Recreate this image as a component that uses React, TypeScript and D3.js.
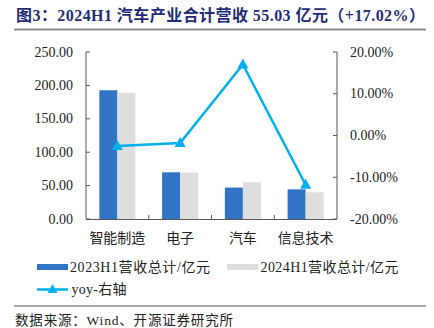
import React from 'react';
import * as d3 from 'd3';

const categories = ['智能制造', '电子', '汽车', '信息技术'];
const seriesNames = ['2023H1营收总计/亿元', '2024H1营收总计/亿元'];
const rev2023 = [192.7, 69.9, 47.03, 44.4];
const rev2024 = [189.0, 69.6, 55.03, 40.0];
const yoy = [-2.5, -1.8, 17.02, -11.8];
const leftTicks = [0, 50, 100, 150, 200, 250];
const rightTicks = [-20, -10, 0, 10, 20];
const lineName = 'yoy-右轴';
const title = '图3：2024H1 汽车产业合计营收 55.03 亿元（+17.02%）';
const source = '数据来源：Wind、开源证券研究所';

const W = 434, H = 328;
const plotL = 86, plotR = 337, plotT = 52, plotB = 219;
const BLUE = '#3174C6';
const GREY = '#DEDEDE';
const LINE = '#00B0F0';
const AXIS = '#595959';
const FONT = '"Liberation Serif", "Times New Roman", "Noto Sans CJK SC", serif';

export default function App() {
  const x = d3.scaleBand<string>().domain(categories).range([plotL, plotR]).padding(0);
  const x1 = d3.scaleBand<string>().domain(seriesNames).range([0, x.bandwidth()]).paddingInner(0).paddingOuter(0.743);
  const yL = d3.scaleLinear().domain([0, 250]).range([plotB, plotT]);
  const yR = d3.scaleLinear().domain([-20, 20]).range([plotB, plotT]);
  const series = [rev2023, rev2024];
  const colors = [BLUE, GREY];
  const cx = (c: string) => (x(c) as number) + x.bandwidth() / 2;
  const line = d3.line<number>().x((_, i) => cx(categories[i])).y((d) => yR(d));
  const tri = (px: number, py: number, s: number) =>
    `M${px},${py - s * 0.6}L${px + s * 0.55},${py + s * 0.4}L${px - s * 0.55},${py + s * 0.4}Z`;

  return (
    <svg width={W} height={H} style={{ position: 'absolute', left: 0, top: 0, background: '#fff' }} fontFamily={FONT}>
      <text x={16} y={15} fontSize={16} fontWeight="bold" fill="#1F2C78" dominantBaseline="central" textLength={409} lengthAdjust="spacing">{title}</text>
      <line x1={14} x2={426} y1={29.5} y2={29.5} stroke="#8C8C8C" strokeWidth={1.8} />

      {series.map((vals, si) =>
        vals.map((v, i) => (
          <rect key={`b${si}-${i}`}
            x={(x(categories[i]) as number) + (x1(seriesNames[si]) as number)}
            y={yL(v)} width={x1.bandwidth()} height={yL(0) - yL(v)} fill={colors[si]} />
        ))
      )}

      {/* axes */}
      <line x1={plotL} x2={plotL} y1={plotT} y2={plotB} stroke={AXIS} />
      <line x1={plotR} x2={plotR} y1={plotT} y2={plotB} stroke={AXIS} />
      <line x1={plotL} x2={plotR} y1={plotB + 0.5} y2={plotB + 0.5} stroke={AXIS} />
      {leftTicks.map((t) => (
        <g key={`l${t}`}>
          <line x1={plotL} x2={plotL + 4} y1={yL(t)} y2={yL(t)} stroke={AXIS} />
          <text x={73} y={yL(t)} fontSize={14} textAnchor="end" dominantBaseline="central" fill="#222">{t.toFixed(2)}</text>
        </g>
      ))}
      {rightTicks.map((t) => (
        <g key={`r${t}`}>
          <line x1={plotR - 4} x2={plotR} y1={yR(t)} y2={yR(t)} stroke={AXIS} />
          <text x={350} y={yR(t)} fontSize={14} textAnchor="start" dominantBaseline="central" fill="#222">{t.toFixed(2) + '%'}</text>
        </g>
      ))}
      {categories.slice(1).map((c) => (
        <line key={`bt${c}`} x1={x(c)} x2={x(c)} y1={plotB} y2={plotB - 4} stroke={AXIS} />
      ))}
      {categories.map((c) => (
        <text key={`c${c}`} x={cx(c)} y={238} fontSize={14} textAnchor="middle" dominantBaseline="central" fill="#222">{c}</text>
      ))}

      {/* yoy line */}
      <path d={line(yoy) || ''} fill="none" stroke={LINE} strokeWidth={2.5} />
      {yoy.map((v, i) => (
        <path key={`m${i}`} d={tri(cx(categories[i]), yR(v), 10)} fill={LINE} />
      ))}

      {/* legend */}
      <rect x={37} y={264} width={31} height={6} fill={BLUE} />
      <text x={70} y={267.5} fontSize={14} dominantBaseline="central" fill="#222" textLength={140} lengthAdjust="spacing">{seriesNames[0]}</text>
      <rect x={227} y={264} width={31} height={6} fill={GREY} />
      <text x={260.5} y={267.5} fontSize={14} dominantBaseline="central" fill="#222" textLength={138} lengthAdjust="spacing">{seriesNames[1]}</text>
      <line x1={37} x2={68} y1={289.5} y2={289.5} stroke={LINE} strokeWidth={2.5} />
      <path d={tri(52.5, 289.5, 9)} fill={LINE} />
      <text x={71.5} y={289.5} fontSize={14} dominantBaseline="central" fill="#222" textLength={55} lengthAdjust="spacing">{lineName}</text>

      <line x1={14} x2={426} y1={306} y2={306} stroke="#555" strokeWidth={1} />
      <text x={15} y={320} fontSize={13.5} dominantBaseline="central" fill="#222" textLength={218} lengthAdjust="spacing">{source}</text>
    </svg>
  );
}
